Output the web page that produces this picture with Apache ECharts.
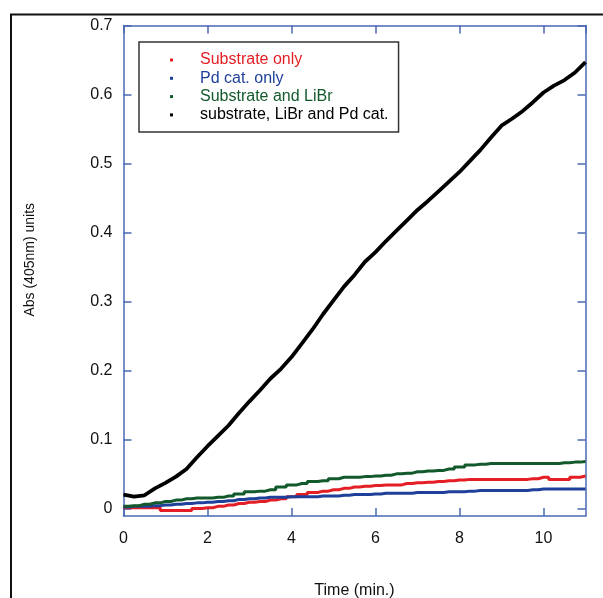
<!DOCTYPE html>
<html>
<head>
<meta charset="utf-8">
<style>html,body{margin:0;padding:0;background:#fff;}#c{width:603px;height:598px;}</style>
<script src="https://cdn.jsdelivr.net/npm/echarts@6/dist/echarts.min.js"></script>
</head>
<body>
<div id="c"></div>
<script>
var seriesNames = ['Substrate only', 'Pd cat. only', 'Substrate and LiBr', 'substrate, LiBr and Pd cat.'];
var time = [0,0.25,0.5,0.75,1,1.25,1.5,1.75,2,2.25,2.5,2.75,3,3.25,3.5,3.75,4,4.25,4.5,4.75,5,5.25,5.5,5.75,6,6.25,6.5,6.75,7,7.25,7.5,7.75,8,8.25,8.5,8.75,9,9.25,9.5,9.75,10,10.25,10.5,10.75,11];
var substrateOnly = [0.002,0.002,0.002,0.002,-0.002,-0.002,-0.002,0.001,0.002,0.004,0.006,0.008,0.010,0.011,0.013,0.015,0.018,0.021,0.024,0.026,0.028,0.030,0.032,0.033,0.034,0.035,0.035,0.037,0.038,0.039,0.040,0.041,0.042,0.043,0.043,0.043,0.043,0.043,0.043,0.044,0.046,0.043,0.043,0.046,0.048];
var pdOnly = [0.003,0.004,0.004,0.005,0.006,0.007,0.008,0.009,0.010,0.011,0.012,0.014,0.015,0.016,0.017,0.017,0.018,0.018,0.018,0.019,0.019,0.020,0.021,0.021,0.022,0.023,0.023,0.023,0.024,0.024,0.024,0.025,0.025,0.026,0.027,0.027,0.027,0.027,0.027,0.028,0.029,0.029,0.029,0.029,0.029];
var substrateLiBr = [0.004,0.005,0.007,0.009,0.011,0.013,0.015,0.016,0.016,0.017,0.019,0.022,0.025,0.026,0.028,0.032,0.035,0.037,0.040,0.041,0.044,0.046,0.046,0.047,0.048,0.049,0.051,0.052,0.054,0.055,0.056,0.058,0.061,0.064,0.065,0.066,0.066,0.066,0.066,0.066,0.066,0.066,0.067,0.068,0.069];
var allThree = [0.021,0.018,0.020,0.030,0.038,0.047,0.058,0.075,0.091,0.106,0.121,0.139,0.156,0.172,0.189,0.203,0.220,0.240,0.260,0.282,0.302,0.322,0.339,0.358,0.372,0.388,0.403,0.418,0.433,0.446,0.460,0.474,0.488,0.504,0.520,0.538,0.555,0.565,0.576,0.589,0.603,0.613,0.621,0.632,0.647];
var xTicks = {min: 0, max: 11, interval: 2};
var yRange = {min: -0.01, max: 0.7};
var yTickValues = [0, 0.1, 0.2, 0.3, 0.4, 0.5, 0.6, 0.7];

var colors = ['#e31e24', '#1f409a', '#12592b', '#000000'];
var valueSets = [substrateOnly, pdOnly, substrateLiBr, allThree];
var axisColor = '#4a68b4';

function pairs(vals) { return time.map(function (t, i) { return [t, vals[i]]; }); }

var chart = echarts.init(document.getElementById('c'), null, {renderer: 'canvas'});
var font = 'Liberation Sans, Arial, sans-serif';
var lineCfg = {show: true, onZero: false, lineStyle: {color: axisColor, width: 1.5}};
var baseX = {
  type: 'value', min: xTicks.min, max: xTicks.max, interval: xTicks.interval,
  axisLine: lineCfg,
  axisTick: {show: true, inside: true, length: 8, lineStyle: {color: axisColor, width: 1.5}},
  splitLine: {show: false}
};
var baseY = {
  type: 'value', min: yRange.min, max: yRange.max,
  axisLine: lineCfg,
  axisTick: {show: true, inside: true, length: 8, customValues: yTickValues, lineStyle: {color: axisColor, width: 1.5}},
  splitLine: {show: false}
};
var option = {
  backgroundColor: '#fff',
  animation: false,
  grid: {left: 123.5, right: 17.5, top: 25.5, bottom: 82, containLabel: false, outerBoundsMode: 'none'},
  graphic: [{
    type: 'polyline', silent: true, z: 100,
    shape: {points: [[11, 598], [11, 14.5], [603, 14.5]]},
    style: {stroke: '#111', lineWidth: 2, fill: null}
  }],
  legend: {
    orient: 'vertical', left: 139, top: 42,
    data: seriesNames.map(function (n, i) { return {name: n, icon: 'rect', textStyle: {color: colors[i]}}; }),
    itemWidth: 3, itemHeight: 3, itemGap: 0.3,
    padding: [9, 10, 8, 31],
    borderColor: '#333', borderWidth: 1.5, backgroundColor: '#fff',
    textStyle: {fontFamily: font, fontSize: 16, lineHeight: 18, padding: [0, 0, 0, 22]}
  },
  xAxis: [
    Object.assign({}, baseX, {
      position: 'bottom', name: 'Time (min.)', nameLocation: 'middle', nameGap: 67,
      nameTextStyle: {fontFamily: font, fontSize: 16, color: '#111'},
      axisLabel: {show: true, margin: 15, fontFamily: font, fontSize: 16, color: '#111', showMaxLabel: false}
    }),
    Object.assign({}, baseX, {position: 'top', axisLabel: {show: false}})
  ],
  yAxis: [
    Object.assign({}, baseY, {
      position: 'left', name: 'Abs (405nm) units', nameLocation: 'middle', nameGap: 86,
      nameTextStyle: {fontFamily: font, fontSize: 14, color: '#111', padding: [0, 0, 0, 22]},
      axisLabel: {show: true, margin: 11, fontFamily: font, fontSize: 16, color: '#111', customValues: yTickValues,
        formatter: function (v) { return String(Math.round(v * 10) / 10); }}
    }),
    Object.assign({}, baseY, {position: 'right', axisLabel: {show: false}})
  ],
  series: seriesNames.map(function (n, i) {
    return {
      name: n, type: 'line', xAxisIndex: 0, yAxisIndex: 0,
      data: pairs(valueSets[i]), showSymbol: false, symbol: 'none',
      step: i === 3 ? false : 'middle',
      lineStyle: {color: colors[i], width: i === 3 ? 3.8 : 3},
      itemStyle: {color: colors[i]}, z: 2 + (i === 3 ? 1 : 0)
    };
  })
};
chart.setOption(option);
</script>
</body>
</html>
